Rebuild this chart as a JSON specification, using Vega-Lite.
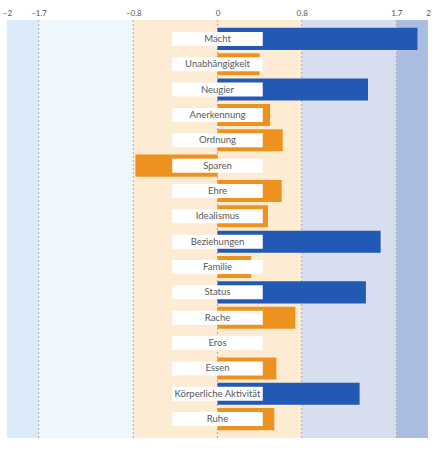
{
  "$schema": "https://vega.github.io/schema/vega-lite/v6.json",
  "width": 421,
  "height": 418,
  "autosize": "none",
  "padding": {"left": 7, "top": 20, "right": 12, "bottom": 13},
  "background": "white",
  "config": {"view": {"stroke": null}, "font": "Lato"},
  "datasets": {
    "werte": [
      {"motiv": "Macht", "wert": 1.9},
      {"motiv": "Unabhängigkeit", "wert": 0.4},
      {"motiv": "Neugier", "wert": 1.43},
      {"motiv": "Anerkennung", "wert": 0.5},
      {"motiv": "Ordnung", "wert": 0.62},
      {"motiv": "Sparen", "wert": -0.78},
      {"motiv": "Ehre", "wert": 0.61},
      {"motiv": "Idealismus", "wert": 0.48},
      {"motiv": "Beziehungen", "wert": 1.55},
      {"motiv": "Familie", "wert": 0.32},
      {"motiv": "Status", "wert": 1.41},
      {"motiv": "Rache", "wert": 0.74},
      {"motiv": "Eros", "wert": 0},
      {"motiv": "Essen", "wert": 0.56},
      {"motiv": "Körperliche Aktivität", "wert": 1.35},
      {"motiv": "Ruhe", "wert": 0.54}
    ],
    "zonen": [
      {"von": -2, "bis": -1.7, "zone": "a"},
      {"von": -1.7, "bis": -0.8, "zone": "b"},
      {"von": -0.8, "bis": 0.8, "zone": "c"},
      {"von": 0.8, "bis": 1.7, "zone": "d"},
      {"von": 1.7, "bis": 2, "zone": "e"}
    ],
    "grenzen": [
      {"x": -1.7}, {"x": -0.8}, {"x": 0}, {"x": 0.8}, {"x": 1.7}
    ]
  },
  "layer": [
    {
      "data": {"name": "zonen"},
      "mark": {"type": "rect"},
      "encoding": {
        "x": {
          "field": "von",
          "type": "quantitative",
          "scale": {"domain": [-2, 2], "nice": false, "zero": false},
          "axis": {
            "orient": "top",
            "title": null,
            "grid": false,
            "domain": false,
            "ticks": false,
            "format": "~g",
            "values": [-2, -1.7, -0.8, 0, 0.8, 1.7, 2],
            "labelFontSize": 8,
            "labelColor": "#555555",
            "labelPadding": 3,
            "labelFlush": false
          }
        },
        "x2": {"field": "bis"},
        "color": {
          "field": "zone",
          "type": "nominal",
          "legend": null,
          "scale": {
            "domain": ["a", "b", "c", "d", "e"],
            "range": ["#dbeaf9", "#eef6fe", "#fdebd4", "#d7deef", "#aabde1"]
          }
        }
      }
    },
    {
      "data": {"name": "grenzen"},
      "mark": {"type": "rule", "strokeDash": [2, 2], "color": "#aaaaaa", "strokeWidth": 1},
      "encoding": {"x": {"field": "x", "type": "quantitative"}}
    },
    {
      "data": {"name": "werte"},
      "layer": [
        {
          "mark": {"type": "bar"},
          "encoding": {
            "x": {"field": "wert", "type": "quantitative"},
            "x2": {"datum": 0},
            "color": {
              "condition": {"test": "datum.wert > 0.8", "value": "#2159b5"},
              "value": "#ee921f"
            }
          }
        },
        {
          "mark": {"type": "bar", "height": 14, "color": "white"},
          "encoding": {
            "x": {"datum": -0.43},
            "x2": {"datum": 0.43}
          }
        },
        {
          "mark": {"type": "text", "fontSize": 9.5, "color": "#595959"},
          "encoding": {
            "x": {"datum": 0},
            "text": {"field": "motiv"}
          }
        }
      ],
      "encoding": {
        "y": {
          "field": "motiv",
          "type": "nominal",
          "sort": null,
          "axis": null,
          "scale": {"paddingInner": 0.13, "paddingOuter": 0.31}
        }
      }
    }
  ]
}
